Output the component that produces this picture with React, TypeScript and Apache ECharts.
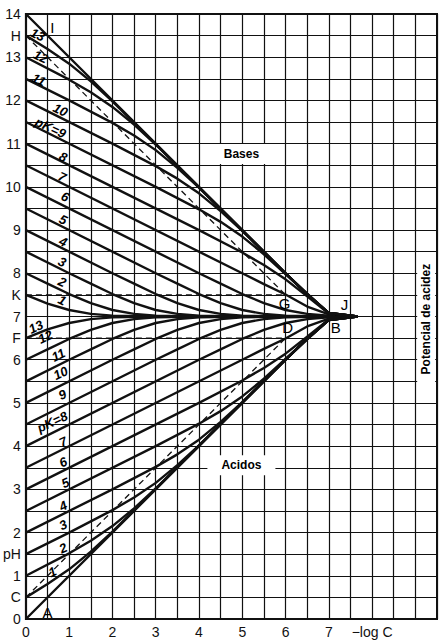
import React, { useEffect, useRef } from "react";
import * as echarts from "echarts";

// pK values of the families (acids and bases)
const acidPK = [1, 2, 3, 4, 5, 6, 7, 8, 9, 10, 11, 12, 13];
const basePK = [1, 2, 3, 4, 5, 6, 7, 8, 9, 10, 11, 12, 13];

// strong acid (A) and strong base (I)
const acidStrong = [[0, 0], [6, 6], [6.5, 6.48], [7, 6.92], [7.66, 7]];
const baseStrong = [[0, 14], [6, 8], [6.5, 7.52], [7, 7.08], [7.66, 7]];

// weak acids, pK = 1 .. 13  ([-log C, pH])
const acid1 = [[0, 0.5], [0.5, 0.81], [1, 1.15], [1.5, 1.56], [2, 2.02], [6, 6], [6.5, 6.48], [7, 6.92], [7.66, 7]];
const acid2 = [[0, 1], [1, 1.52], [1.5, 1.81], [2, 2.15], [2.5, 2.56], [3, 3.02], [6, 6], [6.5, 6.48], [7, 6.92], [7.66, 7]];
const acid3 = [[0, 1.5], [1, 2], [2, 2.52], [2.5, 2.81], [3, 3.15], [3.5, 3.56], [4, 4.02], [6, 6], [6.5, 6.48], [7, 6.92], [7.66, 7]];
const acid4 = [[0, 2], [2, 3], [3, 3.52], [3.5, 3.81], [4, 4.15], [4.5, 4.56], [5, 5.02], [6, 6], [6.5, 6.48], [7, 6.92], [7.66, 7]];
const acid5 = [[0, 2.5], [3, 4], [4, 4.52], [4.5, 4.81], [5, 5.15], [5.5, 5.56], [6, 6.02], [6.5, 6.47], [7, 6.92], [7.66, 7]];
const acid6 = [[0, 3], [4, 5], [5, 5.52], [5.5, 5.81], [6, 6.14], [6.5, 6.53], [7, 6.93], [7.66, 7]];
const acid7 = [[0, 3.5], [5, 6], [5.5, 6.25], [6, 6.49], [6.5, 6.77], [7, 6.95], [7.66, 7]];
const acid8 = [[0, 4], [4, 6], [4.5, 6.24], [5, 6.48], [5.5, 6.69], [6, 6.85], [6.5, 6.94], [7, 6.98], [7.66, 7]];
const acid9 = [[0, 4.5], [3, 6], [3.5, 6.24], [4, 6.48], [4.5, 6.69], [5, 6.85], [5.5, 6.94], [6, 6.98], [7, 7], [7.66, 7]];
const acid10 = [[0, 5], [2, 6], [2.5, 6.24], [3, 6.48], [3.5, 6.69], [4, 6.85], [4.5, 6.94], [5, 6.98], [6, 7], [7.66, 7]];
const acid11 = [[0, 5.5], [1, 6], [1.5, 6.24], [2, 6.48], [2.5, 6.69], [3, 6.85], [3.5, 6.94], [4, 6.98], [5, 7], [7.66, 7]];
const acid12 = [[0, 6], [0.5, 6.24], [1, 6.48], [1.5, 6.69], [2, 6.85], [2.5, 6.94], [3, 6.98], [4, 7], [7.66, 7]];
const acid13 = [[0, 6.5], [0.5, 6.7], [1, 6.85], [1.5, 6.94], [2, 6.98], [3, 7], [7.66, 7]];
const acidCurves = [acid1, acid2, acid3, acid4, acid5, acid6, acid7, acid8, acid9, acid10, acid11, acid12, acid13];

// weak bases, pK = 1 .. 13
const base1 = [[0, 7.5], [0.5, 7.3], [1, 7.15], [1.5, 7.06], [2, 7.02], [3, 7], [7.66, 7]];
const base2 = [[0, 8], [0.5, 7.76], [1, 7.52], [1.5, 7.31], [2, 7.15], [2.5, 7.06], [3, 7.02], [4, 7], [7.66, 7]];
const base3 = [[0, 8.5], [1, 8], [1.5, 7.76], [2, 7.52], [2.5, 7.31], [3, 7.15], [3.5, 7.06], [4, 7.02], [5, 7], [7.66, 7]];
const base4 = [[0, 9], [2, 8], [2.5, 7.76], [3, 7.52], [3.5, 7.31], [4, 7.15], [4.5, 7.06], [5, 7.02], [6, 7], [7.66, 7]];
const base5 = [[0, 9.5], [3, 8], [3.5, 7.76], [4, 7.52], [4.5, 7.31], [5, 7.15], [5.5, 7.06], [6, 7.02], [7, 7], [7.66, 7]];
const base6 = [[0, 10], [4, 8], [4.5, 7.76], [5, 7.52], [5.5, 7.31], [6, 7.15], [6.5, 7.06], [7, 7.02], [7.66, 7]];
const base7 = [[0, 10.5], [5, 8], [5.5, 7.75], [6, 7.51], [6.5, 7.23], [7, 7.05], [7.66, 7]];
const base8 = [[0, 11], [4, 9], [5, 8.48], [5.5, 8.19], [6, 7.86], [6.5, 7.47], [7, 7.07], [7.66, 7]];
const base9 = [[0, 11.5], [3, 10], [4, 9.48], [4.5, 9.19], [5, 8.85], [5.5, 8.44], [6, 7.98], [6.5, 7.53], [7, 7.08], [7.66, 7]];
const base10 = [[0, 12], [2, 11], [3, 10.48], [3.5, 10.19], [4, 9.85], [4.5, 9.44], [5, 8.98], [6, 8], [6.5, 7.52], [7, 7.08], [7.66, 7]];
const base11 = [[0, 12.5], [1, 12], [2, 11.48], [2.5, 11.19], [3, 10.85], [3.5, 10.44], [4, 9.98], [6, 8], [6.5, 7.52], [7, 7.08], [7.66, 7]];
const base12 = [[0, 13], [1, 12.48], [1.5, 12.19], [2, 11.85], [2.5, 11.44], [3, 10.98], [6, 8], [6.5, 7.52], [7, 7.08], [7.66, 7]];
const base13 = [[0, 13.5], [0.5, 13.19], [1, 12.85], [1.5, 12.44], [2, 11.98], [6, 8], [6.5, 7.52], [7, 7.08], [7.66, 7]];
const baseCurves = [base1, base2, base3, base4, base5, base6, base7, base8, base9, base10, base11, base12, base13];

// dashed guide lines
const dashCD = [[0, 0.5], [6, 6.5]];
const dashFD = [[0, 6.5], [6, 6.5]];
const dashKG = [[0, 7.5], [6, 7.5]];
const dashHG = [[0, 13.5], [6, 7.5]];

// label positions for curve pK numbers ([-log C, pH])
const acidLabelText = ["1", "2", "3", "4", "5", "6", "7", "pK=8", "9", "10", "11", "12", "13"];
const acidLabelPos = [[0.61, 1.09], [0.86, 1.64], [0.86, 2.18], [0.86, 2.62], [0.91, 3.15], [0.86, 3.63], [0.86, 4.1], [0.61, 4.56], [0.84, 5.19], [0.8, 5.69], [0.75, 6.11], [0.45, 6.53], [0.23, 6.76]];
const baseLabelText = ["1", "2", "3", "4", "5", "6", "7", "8", "pK=9", "10", "11", "12", "13"];
const baseLabelPos = [[0.84, 7.38], [0.84, 7.8], [0.84, 8.26], [0.86, 8.73], [0.86, 9.24], [0.91, 9.77], [0.84, 10.23], [0.86, 10.69], [0.57, 11.37], [0.8, 11.78], [0.3, 12.48], [0.34, 13.01], [0.27, 13.52]];

// point letters
const letterText = ["I", "A", "G", "D", "J", "B"];
const letterPos = [[0.61, 13.68], [0.5, 0.16], [5.98, 7.31], [6.05, 6.74], [7.36, 7.27], [7.16, 6.74]];

// y-axis letter ticks
const yLetterValues = [0.5, 1.5, 6.5, 7.5, 13.5];
const yLetterTexts = ["C", "pH", "F", "K", "H"];
const xTitleValue = 8;
const xTitle = "\u2212log C";

const FONT = "'Liberation Sans', Arial, sans-serif";

export default function App() {
  const ref = useRef<HTMLDivElement>(null);
  useEffect(() => {
    if (!ref.current) return;
    const chart = echarts.init(ref.current, null, { renderer: "svg" });
    const lineBase = { type: "line", showSymbol: false, symbol: "none", smooth: false, silent: true, z: 3 };
    const series: any[] = [];
    const solid = { color: "#111", width: 2.4, join: "round" };
    series.push({ ...lineBase, data: acidStrong, lineStyle: solid });
    series.push({ ...lineBase, data: baseStrong, lineStyle: solid });
    acidCurves.forEach((d) => series.push({ ...lineBase, data: d, lineStyle: solid }));
    baseCurves.forEach((d) => series.push({ ...lineBase, data: d, lineStyle: solid }));
    [dashCD, dashFD, dashKG, dashHG].forEach((d) =>
      series.push({ ...lineBase, data: d, lineStyle: { color: "#111", width: 1.3, type: [6, 4] } })
    );
    const txt = { show: true, position: "inside", color: "#000", opacity: 1, textBorderWidth: 0, fontFamily: FONT };
    const scatterBase = { type: "scatter", silent: true, symbolSize: 0, itemStyle: { color: "#000", opacity: 1 } };
    const numLabel = (t: string, p: number[], rot: number) => ({
      value: p,
      label: { formatter: t, rotate: rot },
    });
    series.push({
      ...scatterBase,
      z: 6,
      label: { ...txt, fontSize: 13, fontStyle: "italic", fontWeight: "bold" },
      data: [
        ...acidLabelText.map((t, i) => numLabel(t, acidLabelPos[i], 25)),
        ...baseLabelText.map((t, i) => numLabel(t, baseLabelPos[i], -25)),
      ],
    });
    series.push({
      ...scatterBase,
      z: 6,
      label: { ...txt, fontSize: 15 },
      data: letterText.map((t, i) => ({ value: letterPos[i], label: { formatter: t } })),
    });
    series.push({
      ...scatterBase,
      z: 8,
      label: { ...txt, fontSize: 12, fontWeight: "bold", backgroundColor: "#fff" },
      data: [
        { value: [4.98, 10.76], label: { formatter: "Bases", padding: [4, 16] } },
        { value: [4.98, 3.56], label: { formatter: "Acidos", padding: [4, 14] } },
        { value: [9.25, 6.94], label: { formatter: "Potencial de acidez", rotate: 90, padding: [3, 10] } },
      ],
    });

    chart.setOption({
      animation: false,
      backgroundColor: "#fff",
      grid: { left: 20, right: 5, top: 14, bottom: 22, show: true, borderColor: "#111", borderWidth: 2, backgroundColor: "transparent" },
      xAxis: {
        type: "value",
        min: 0,
        max: 9.5,
        interval: 0.5,
        axisLine: { show: true, lineStyle: { color: "#111", width: 2 } },
        axisTick: { show: false },
        splitLine: { show: true, lineStyle: { color: "#111", width: 1.2 } },
        axisLabel: {
          color: "#111",
          fontSize: 14,
          fontFamily: FONT,
          margin: 6,
          formatter: (v: number) => {
            if (Math.abs(v - xTitleValue) < 1e-6) return xTitle;
            if (Number.isInteger(v) && v <= 7) return String(v);
            return "";
          },
        },
      },
      yAxis: {
        type: "value",
        min: 0,
        max: 14,
        interval: 0.5,
        axisLine: { show: true, lineStyle: { color: "#111", width: 2 } },
        axisTick: { show: false },
        splitLine: { show: true, lineStyle: { color: "#111", width: 1.2 } },
        axisLabel: {
          color: "#111",
          fontSize: 14,
          fontFamily: FONT,
          margin: 5,
          formatter: (v: number) => {
            const k = yLetterValues.findIndex((y) => Math.abs(y - v) < 1e-6);
            if (k >= 0) return yLetterTexts[k];
            if (Number.isInteger(v)) return String(v);
            return "";
          },
        },
      },
      series,
    });
    return () => chart.dispose();
  }, []);
  return <div ref={ref} style={{ position: "absolute", left: 0, top: 0, width: 442, height: 641 }} />;
}
